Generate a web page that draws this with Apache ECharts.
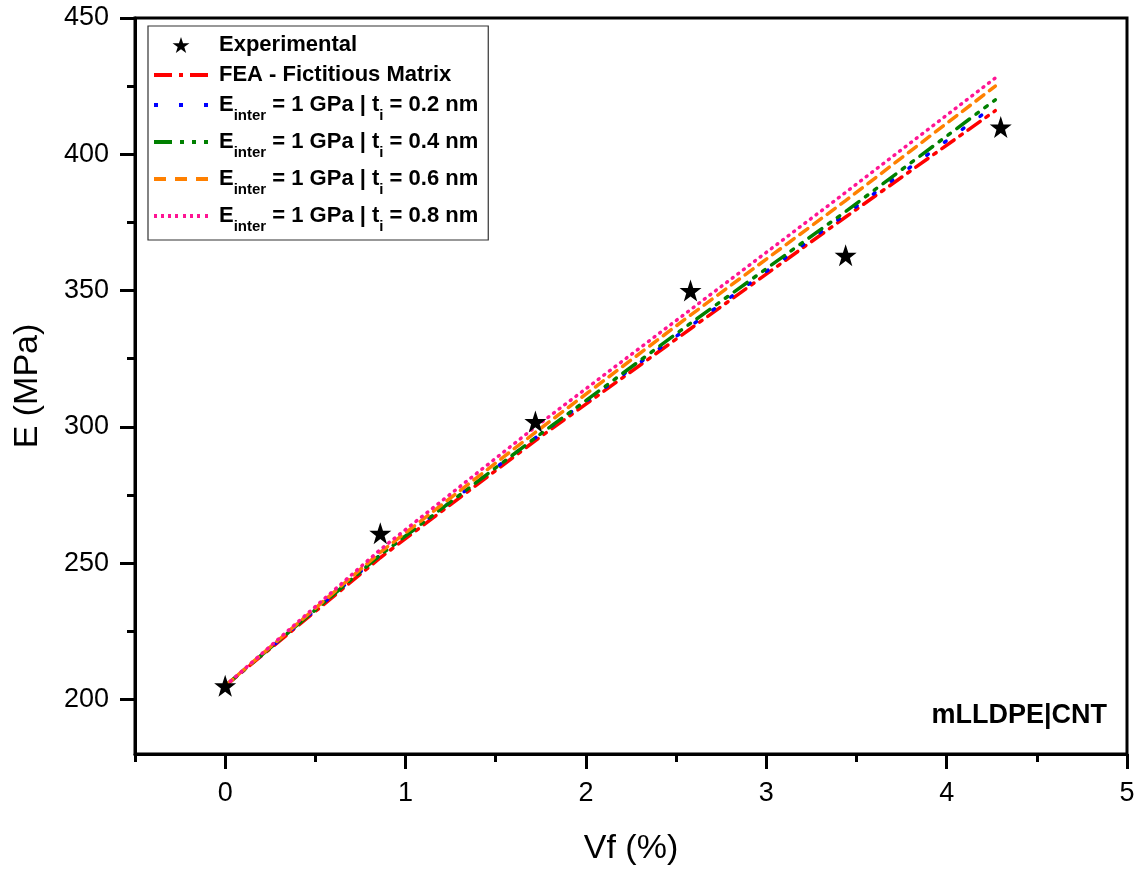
<!DOCTYPE html>
<html>
<head>
<meta charset="utf-8">
<script src="https://cdn.jsdelivr.net/npm/echarts@6/dist/echarts.min.js"></script>
<style>
html,body{margin:0;padding:0;background:#fff;}
#chart{width:1140px;height:871px;}
</style>
</head>
<body>
<div id="chart"></div>
<script>
// ---- data ----
var expVf = [0, 0.86, 1.72, 2.58, 3.44, 4.3];
var expE = [205, 261, 302, 350, 363, 410];
var modelVf = [0, 0.86, 1.72, 2.58, 3.44, 4.27];
var feaE = [205, 252, 295, 336, 377, 416];
var t02E = [205, 253, 296, 337, 378, 418];
var t04E = [205, 253, 296, 338, 379, 420];
var t06E = [205, 254, 298, 341, 383, 425];
var t08E = [205, 255, 300, 343, 386, 428];
var xTickLabels = [0, 1, 2, 3, 4, 5];
var xMinorTicks = [-0.5, 0.5, 1.5, 2.5, 3.5, 4.5];
var yTickLabels = [200, 250, 300, 350, 400, 450];
var yMinorTicks = [225, 275, 325, 375, 425];

var legendLabels = {
  'Experimental': 'Experimental',
  'FEA - Fictitious Matrix': 'FEA - Fictitious Matrix',
  'Einter02': 'E{sub|inter} = 1 GPa | t{sub|i} = 0.2 nm',
  'Einter04': 'E{sub|inter} = 1 GPa | t{sub|i} = 0.4 nm',
  'Einter06': 'E{sub|inter} = 1 GPa | t{sub|i} = 0.6 nm',
  'Einter08': 'E{sub|inter} = 1 GPa | t{sub|i} = 0.8 nm'
};

function pairs(xs, ys) { return xs.map(function (x, i) { return [x, ys[i]]; }); }

var star = 'path://M50,0 L61.8,35.1 L98.1,35.1 L68.7,56.8 L79.4,90.9 L50,69.6 L20.6,90.9 L31.3,56.8 L1.9,35.1 L38.2,35.1 Z';
var FONT = '"Liberation Sans", Arial, sans-serif';

// legend icons: dash patterns drawn as small rectangles (all spanning 0..54 x 0..4)
function segIcon(segs) {
  return 'path://' + segs.map(function (s) { return 'M' + s[0] + ' 0h' + (s[1] - s[0]) + 'v4h-' + (s[1] - s[0]) + 'z'; }).join(' ');
}
var iconRed = segIcon([[0, 18], [25, 29], [36, 54]]);
var iconBlue = segIcon([[0, 4], [25, 29], [50, 54]]);
var iconGreen = segIcon([[0, 18], [26, 30], [38, 42], [50, 54]]);
var iconOrange = segIcon([[0, 12], [21, 33], [42, 54]]);
var iconPink = segIcon([[0, 3], [7, 10], [14, 17], [21, 24], [29, 32], [36, 39], [43, 46], [51, 54]]);

function lineSeries(name, data, color, dash) {
  return {
    name: name, type: 'line', data: pairs(modelVf, data),
    symbol: 'none', z: 3,
    lineStyle: { color: color, width: 3.5, type: dash, cap: 'round' },
    itemStyle: { color: color }
  };
}

var chart = echarts.init(document.getElementById('chart'), null, { renderer: 'canvas' });
chart.setOption({
  animation: false,
  backgroundColor: '#fff',
  grid: { left: 135, right: 13, top: 18, bottom: 116, show: true, borderColor: '#000', borderWidth: 3, backgroundColor: 'transparent' },
  xAxis: [{
    type: 'value', min: -0.5, max: 5, position: 'bottom',
    name: 'Vf (%)', nameLocation: 'middle', nameGap: 78,
    nameTextStyle: { fontSize: 34, fontFamily: FONT, color: '#000' },
    axisLine: { show: true, onZero: false, lineStyle: { color: '#000', width: 3 } },
    axisTick: { show: true, inside: false, length: 15, customValues: xTickLabels, lineStyle: { color: '#000', width: 3 } },
    axisLabel: { show: true, customValues: xTickLabels, margin: 26, fontSize: 27, fontFamily: FONT, color: '#000' },
    splitLine: { show: false }
  }, {
    type: 'value', min: -0.5, max: 5, position: 'bottom',
    axisLine: { show: false, onZero: false },
    axisTick: { show: true, inside: false, length: 8, customValues: xMinorTicks, lineStyle: { color: '#000', width: 3 } },
    axisLabel: { show: false },
    splitLine: { show: false }
  }],
  yAxis: [{
    type: 'value', min: 180, max: 450, position: 'left',
    name: 'E (MPa)', nameLocation: 'middle', nameGap: 90, nameRotate: 90,
    nameTextStyle: { fontSize: 34, fontFamily: FONT, color: '#000' },
    axisLine: { show: true, onZero: false, lineStyle: { color: '#000', width: 3 } },
    axisTick: { show: true, inside: false, length: 15, customValues: yTickLabels, lineStyle: { color: '#000', width: 3 } },
    axisLabel: { show: true, customValues: yTickLabels, margin: 26, fontSize: 27, fontFamily: FONT, color: '#000' },
    splitLine: { show: false }
  }, {
    type: 'value', min: 180, max: 450, position: 'left',
    axisLine: { show: false, onZero: false },
    axisTick: { show: true, inside: false, length: 8, customValues: yMinorTicks, lineStyle: { color: '#000', width: 3 } },
    axisLabel: { show: false },
    splitLine: { show: false }
  }],
  legend: {
    orient: 'vertical', left: 148, top: 26,
    borderColor: '#333', borderWidth: 1.2,
    padding: [8, 10, 6, 6], itemGap: 8,
    itemWidth: 54, itemHeight: 16,
    data: [
      { name: 'Experimental', icon: star, itemStyle: { color: '#000', opacity: 1 } },
      { name: 'FEA - Fictitious Matrix', icon: iconRed },
      { name: 'Einter02', icon: iconBlue },
      { name: 'Einter04', icon: iconGreen },
      { name: 'Einter06', icon: iconOrange },
      { name: 'Einter08', icon: iconPink }
    ],
    formatter: function (name) { return legendLabels[name]; },
    textStyle: {
      fontSize: 22, fontWeight: 'bold', fontFamily: FONT, color: '#000', padding: [0, 0, 0, 6],
      rich: {
        sub: { fontSize: 15, fontWeight: 'bold', fontFamily: FONT, color: '#000', verticalAlign: 'bottom', lineHeight: 36 }
      }
    }
  },
  graphic: [{
    type: 'text', right: 33, top: 702, z: 10,
    style: { text: 'mLLDPE|CNT', fontSize: 27, fontWeight: 'bold', fontFamily: FONT, fill: '#000' }
  }],
  series: [
    {
      name: 'Experimental', type: 'scatter', data: pairs(expVf, expE),
      symbol: star, symbolSize: 22, z: 5,
      itemStyle: { color: '#000', opacity: 1 }
    },
    lineSeries('FEA - Fictitious Matrix', feaE, '#ff0000', [15, 7, 3, 7]),
    lineSeries('Einter02', t02E, '#0000ff', [2, 20]),
    lineSeries('Einter04', t04E, '#008000', [16, 8, 3, 8, 3, 8]),
    lineSeries('Einter06', t06E, '#ff8000', [10, 7]),
    lineSeries('Einter08', t08E, '#ff1493', [1, 6])
  ]
});
</script>
</body>
</html>
